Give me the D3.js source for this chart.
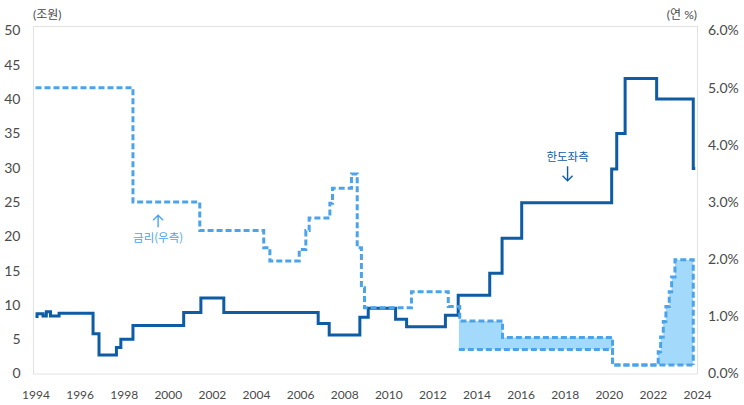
<!DOCTYPE html>
<html lang="ko">
<head>
<meta charset="UTF-8">
<title>한도와 금리</title>
<script src="https://cdn.jsdelivr.net/npm/d3@7/dist/d3.min.js"></script>
<style>
  body { margin: 0; background: #fff; }
  svg text { font-family: Lato, "Noto Sans CJK KR", sans-serif; }
</style>
</head>
<body>
<div id="chart"></div>
<script>
// 한도 (조원, 좌측) - 변경 시점과 값
const limitYears  = [1994.0, 1994.07, 1994.34, 1994.49, 1994.68, 1995.07, 1996.61, 1996.88, 1997.67, 1997.87,
                     1998.42, 2000.72, 2001.5, 2002.54, 2006.82, 2007.32, 2008.71, 2009.09, 2010.33, 2010.83,
                     2012.59, 2013.17, 2014.6, 2015.16, 2016.05, 2020.13, 2020.36, 2020.74, 2022.17, 2023.83, 2023.92];
const limitValues = [8.3, 8.7, 8.4, 9.0, 8.4, 8.8, 5.8, 2.7, 3.8, 5.0,
                     7.0, 8.9, 11.0, 8.9, 7.3, 5.6, 8.2, 9.5, 7.9, 6.8,
                     8.5, 11.4, 14.6, 19.7, 24.9, 29.8, 35.0, 43.0, 40.0, 29.9, 29.9];

// 금리 (연 %, 우측) - 상단(최고)
const rateYears = [1994.0, 1998.42, 2001.45, 2004.35, 2004.63, 2005.96, 2006.26, 2006.41, 2007.35, 2007.47,
                   2008.33, 2008.59, 2008.78, 2008.92, 2011.05, 2012.72, 2013.24, 2015.18, 2020.17,
                   2022.24, 2022.35, 2022.47, 2022.59, 2022.74, 2022.85, 2023.0, 2023.83];
const rateHi    = [5.0, 3.0, 2.5, 2.2, 1.97, 2.17, 2.5, 2.72, 2.98, 3.24,
                   3.49, 2.2, 1.5, 1.15, 1.43, 1.17, 0.92, 0.63, 0.15,
                   0.38, 0.64, 0.91, 1.17, 1.43, 1.69, 1.99, 0.15];
// 금리 하단(최저)
const rateLoYears = [2013.2, 2020.17, 2023.83];
const rateLo      = [0.42, 0.15, 0.15];

const xTicks = d3.range(1994, 2025, 2);
const leftTicks = d3.range(0, 51, 5);
const rightTicks = d3.range(0, 6.1, 1);

const width = 744, height = 405;
const darkBlue = "#0d5ca4", lightBlue = "#4ba4ea", bandFill = "#a3d9fa";

const svg = d3.select("#chart").append("svg")
    .attr("width", width)
    .attr("height", height);

const x = d3.scaleLinear().domain([1994, 2024]).range([35.5, 697]);
const yL = d3.scaleLinear().domain([0, 50]).range([373.5, 30.5]);
const yR = d3.scaleLinear().domain([0, 6]).range([373.5, 30.5]);

// 테두리
svg.append("rect")
    .attr("x", 33.5).attr("y", 26.5)
    .attr("width", 664).attr("height", 347.5)
    .attr("fill", "none")
    .attr("stroke", "#e2e2e2");

// 축
const xAxis = svg.append("g")
    .attr("transform", "translate(0,374)")
    .call(d3.axisBottom(x).tickValues(xTicks).tickSize(0).tickPadding(16).tickFormat(d3.format("d")));
const lAxis = svg.append("g")
    .attr("transform", "translate(34,0)")
    .call(d3.axisLeft(yL).tickValues(leftTicks).tickSize(0).tickPadding(13.5));
const rAxis = svg.append("g")
    .attr("transform", "translate(697,0)")
    .call(d3.axisRight(yR).tickValues(rightTicks).tickSize(0).tickPadding(11)
        .tickFormat(d => d3.format(".1f")(d) + "%"));
[xAxis, lAxis, rAxis].forEach(g => {
    g.select(".domain").remove();
    g.selectAll("text").attr("fill", "#4a4a4a").style("font-family", "Lato, sans-serif");
});
xAxis.selectAll("text").style("font-size", "12px");
lAxis.selectAll("text").style("font-size", "14px");
rAxis.selectAll("text").style("font-size", "14px");

svg.append("text").attr("x", 33).attr("y", 19)
    .style("font-size", "12px").attr("fill", "#4a4a4a")
    .text("(조원)");
svg.append("text").attr("x", 697).attr("y", 19)
    .attr("text-anchor", "end")
    .style("font-size", "12px").attr("fill", "#4a4a4a")
    .text("(연 %)");

// 단계 함수 값
function stepAt(xs, vs, t) {
    let v = vs[0];
    for (let i = 0; i < xs.length; i++) { if (xs[i] <= t) v = vs[i]; }
    return v;
}

// 금리 범위 음영
const bandXs = Array.from(new Set(rateYears.concat(rateLoYears)))
    .filter(t => t >= rateLoYears[0] && t <= rateLoYears[rateLoYears.length - 1])
    .sort((a, b) => a - b);
const band = bandXs.map(t => ({
    t: t,
    hi: stepAt(rateYears, rateHi, t),
    lo: stepAt(rateLoYears, rateLo, t)
}));
svg.append("path")
    .datum(band)
    .attr("fill", bandFill)
    .attr("d", d3.area().curve(d3.curveStepAfter)
        .x(d => x(d.t)).y0(d => yR(d.lo)).y1(d => yR(Math.max(d.hi, d.lo))));

// 한도 선
const limitLine = d3.line().curve(d3.curveStepAfter)
    .x(d => x(d[0])).y(d => yL(d[1]));
svg.append("path")
    .datum(d3.zip(limitYears, limitValues))
    .attr("fill", "none")
    .attr("stroke", darkBlue)
    .attr("stroke-width", 3)
    .attr("d", limitLine);

// 금리 선 (점선)
const rateLine = d3.line().curve(d3.curveStepAfter)
    .x(d => x(d[0])).y(d => yR(d[1]));
[[rateYears, rateHi], [rateLoYears, rateLo]].forEach(([xs, vs]) => {
    svg.append("path")
        .datum(d3.zip(xs, vs))
        .attr("fill", "none")
        .attr("stroke", lightBlue)
        .attr("stroke-width", 3)
        .attr("stroke-dasharray", "6,3")
        .attr("d", rateLine);
});

// 주석
function arrow(cx, yFrom, yTo, color) {
    const dir = yTo > yFrom ? -1 : 1;
    svg.append("path")
        .attr("d", `M${cx},${yFrom}L${cx},${yTo}M${cx - 5},${yTo + dir * 5}L${cx},${yTo}L${cx + 5},${yTo + dir * 5}`)
        .attr("fill", "none")
        .attr("stroke", color)
        .attr("stroke-width", 1.4);
}
arrow(x(1999.56), yR(2.56), yR(2.77), lightBlue);
svg.append("text")
    .attr("x", x(1999.56)).attr("y", yR(2.37)).attr("dy", "0.35em")
    .attr("text-anchor", "middle")
    .style("font-family", "'Noto Sans CJK KR', sans-serif")
    .style("font-size", "11.5px")
    .attr("fill", lightBlue)
    .text("금리(우측)");

svg.append("text")
    .attr("x", x(2018.13)).attr("y", yL(31.6)).attr("dy", "0.35em")
    .attr("text-anchor", "middle")
    .style("font-family", "'Noto Sans CJK KR', sans-serif")
    .style("font-size", "11.5px")
    .attr("fill", darkBlue)
    .text("한도좌측");
arrow(x(2018.13), yL(30.2), yL(28.1), darkBlue);
</script>
</body>
</html>
